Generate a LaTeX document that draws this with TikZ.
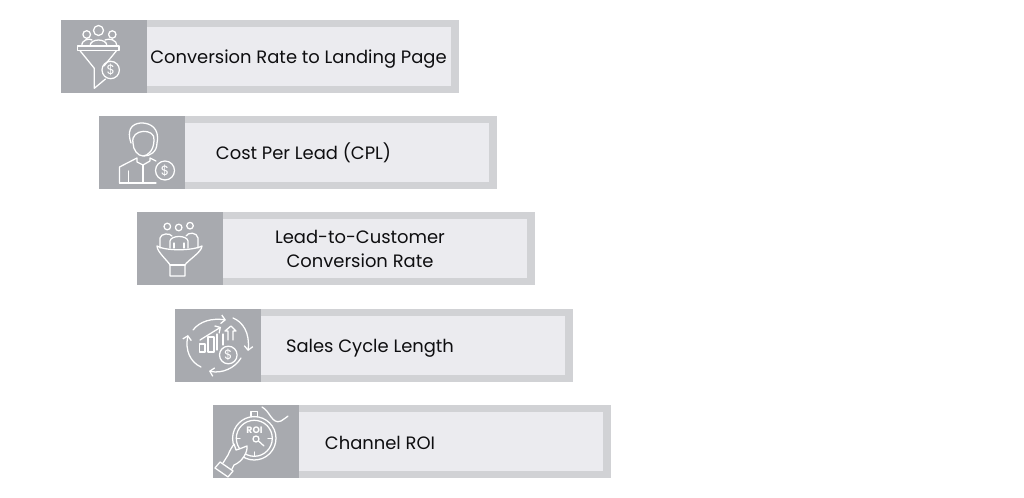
\documentclass[tikz,border=0pt]{standalone}
\usepackage{fontspec}
\setmainfont{Poppins}
\usetikzlibrary{arrows.meta}
\definecolor{iconbg}{HTML}{A8AAAF}
\definecolor{framebg}{HTML}{D1D2D5}
\definecolor{innerbg}{HTML}{EBEBEF}
\definecolor{labeltext}{HTML}{0E0E10}
\tikzset{
	framebox/.style={fill=framebg, draw=none},
	innerbox/.style={fill=innerbg, draw=none},
	iconbox/.style={fill=iconbg, draw=none},
	iconline/.style={draw=white, line width=0.95pt, line join=round, line cap=round},
	cyclearrow/.style={iconline, -{Straight Barb[length=3pt,width=6.5pt]}},
	metric/.style={text=labeltext, font=\fontsize{13.45}{18}\selectfont, align=center, inner sep=0pt},
	coinmark/.style={text=white, font=\fontsize{10}{10}\selectfont, inner sep=0pt}
}

\begin{document}
\begin{tikzpicture}[x=0.75pt, y=-0.75pt]
	\useasboundingbox[fill=white] (0,0) rectangle (1024,498);

	% first row
	\draw[framebox] (61,20) rectangle (459,93);
	\draw[innerbox] (147,27) rectangle (451,86);
	\draw[iconbox] (61,20) rectangle (147,93);
	\node[metric] (landing) at (298.5,59) {Conversion Rate to Landing Page};

	% second row
	\draw[framebox] (99,116) rectangle (497,189);
	\draw[innerbox] (185,123.5) rectangle (489,182);
	\draw[iconbox] (99,116) rectangle (185,189);
	\node[metric] (cpl) at (303.5,153) {Cost Per Lead (CPL)};

	% third row
	\draw[framebox] (137,212) rectangle (535,285);
	\draw[innerbox] (223,219.5) rectangle (527,278);
	\draw[iconbox] (137,212) rectangle (223,285);
	\node[metric] (customer) at (360,249) {Lead-to-Customer\\Conversion Rate};

	% fourth row
	\draw[framebox] (175,309) rectangle (573,382);
	\draw[innerbox] (261,316) rectangle (565,375);
	\draw[iconbox] (175,309) rectangle (261,382);
	\node[metric] (cycle) at (370,348.5) {Sales Cycle Length};

	% fifth row
	\draw[framebox] (213,405) rectangle (611,478);
	\draw[innerbox] (299,412) rectangle (603,471);
	\draw[iconbox] (213,405) rectangle (299,478);
	\node[metric] (roi) at (380,442.5) {Channel ROI};

	% funnel icon
	\draw[iconline] (86.7,34.5) circle (3.8);
	\draw[iconline] (98.5,30.5) circle (5);
	\draw[iconline] (112.3,34.5) circle (3.7);
	\draw[iconline] (82,46) .. controls (81,39.5) and (90,38) .. (92,40);
	\draw[iconline] (90,46) .. controls (90,38) and (107,38) .. (107,46);
	\draw[iconline] (105,40) .. controls (109,38) and (117,39.5) .. (117,46);
	\draw[iconline] (77.7,46) rectangle (119,50.7);
	\draw[iconline] (80,50.7) -- (94.3,68.3) -- (94.3,88.3) -- (105.5,79);
	\draw[iconline] (116.5,50.7) -- (104,66);
	\draw[iconline] (110.7,70) circle (8.7);
	\node[coinmark] (funneldollar) at (110.7,70) {\$};

	% person icon
	\draw[iconline] (131,143) .. controls (125,125) and (137,123) .. (142,123) .. controls (150,123) and (160,128) .. (157,143) .. controls (157,152) and (150,156) .. (144,156);
	\draw[iconline] (133,143) .. controls (130,128) and (156,128) .. (154,140) .. controls (154,150) and (148,156) .. (143,156) .. controls (138,156) and (133,150) .. (133,143);
	\draw[iconline] (119.5,183) -- (119.5,167) -- (137,158) -- (137,162) -- (143,165) -- (150,161) -- (150,158) -- (156,161);
	\draw[iconline] (119.5,183) -- (156,183);
	\draw[iconline] (128.5,183) -- (128.5,171);
	\draw[iconline] (143,165) -- (143,183);
	\draw[iconline] (165,170.5) circle (9.5);
	\node[coinmark] (persondollar) at (165,170.5) {\$};

	% customer funnel icon
	\draw[iconline] (167.3,226.5) circle (3.3);
	\draw[iconline] (178.7,227.5) circle (3.3);
	\draw[iconline] (190,225.7) circle (3.3);
	\draw[iconline] (160,248) -- (160,238) .. controls (161,233) and (170,233) .. (172,236);
	\draw[iconline] (186,236) .. controls (188,232) and (197,232) .. (198,238) -- (198,248);
	\draw[iconline] (170,248) -- (170,241) .. controls (171,235) and (187,235) .. (188,241) -- (188,248);
	\draw[iconline] (174,248) -- (174,243);
	\draw[iconline] (184,248) -- (184,243);
	\draw[iconline] (157,246) .. controls (165,251) and (192,251) .. (202,246) .. controls (202,252) and (187,261) .. (185,265) -- (185,276) -- (170,276) -- (170,265) .. controls (168,261) and (157,252) .. (157,246);
	\draw[iconline] (170,265) -- (185,265);

	% sales cycle icon
	\draw[cyclearrow] (193,330) .. controls (200,321) and (212,318) .. (226,320);
	\draw[cyclearrow] (233,318) .. controls (243,322) and (250,333) .. (248,351);
	\draw[cyclearrow] (241,358) .. controls (235,368) and (222,374) .. (209,371);
	\draw[cyclearrow] (201,367) .. controls (190,362) and (185,350) .. (188,335);
	\draw[iconline] (199.5,344) rectangle (205,352);
	\draw[iconline] (208,337) rectangle (214,352);
	\draw[iconline] (217,334) -- (217,350);
	\draw[iconline] (223,334) -- (223,345);
	\draw[iconline] (228,340) -- (228,331) -- (225,331) -- (231,326) -- (236,331) -- (233,331) -- (233,340);
	\draw[cyclearrow] (200,340) -- (221,327);
	\draw[iconline, fill=iconbg] (228.3,355) circle (8.8);
	\node[coinmark] (cycledollar) at (228.3,355) {\$};

	% stopwatch icon
	\draw[iconline] (254.3,438.3) circle (21.7);
	\draw[iconline] (254.3,438.3) circle (18);
	\draw[iconline] (251,411.5) rectangle (257.5,416.5);
	\draw[iconline] (262,407) .. controls (270,411) and (272,425) .. (281,421) .. controls (284,419) and (287,417) .. (288,416);
	\draw[iconline] (237,438.3) -- (240,438.3);
	\draw[iconline] (268,438.3) -- (272,438.3);
	\draw[iconline] (254.3,452) -- (254.3,456);
	\draw[iconline] (256,439) circle (3);
	\draw[iconline] (258.5,441) -- (264,446);
	\node[coinmark, font=\bfseries\fontsize{7}{7}\selectfont] (roimark) at (254.5,430) {ROI};
	\draw[iconline, fill=iconbg] (223,463) -- (228,455) .. controls (230,450) and (232,447) .. (234,444) -- (236,450) .. controls (240,449) and (244,447) .. (247,446) .. controls (248,452) and (242,462) .. (234,465) -- (231,471);
	\draw[iconline, fill=iconbg] (215,468) -- (220,462) -- (233,471) -- (228,477) -- cycle;
\end{tikzpicture}
\end{document}
